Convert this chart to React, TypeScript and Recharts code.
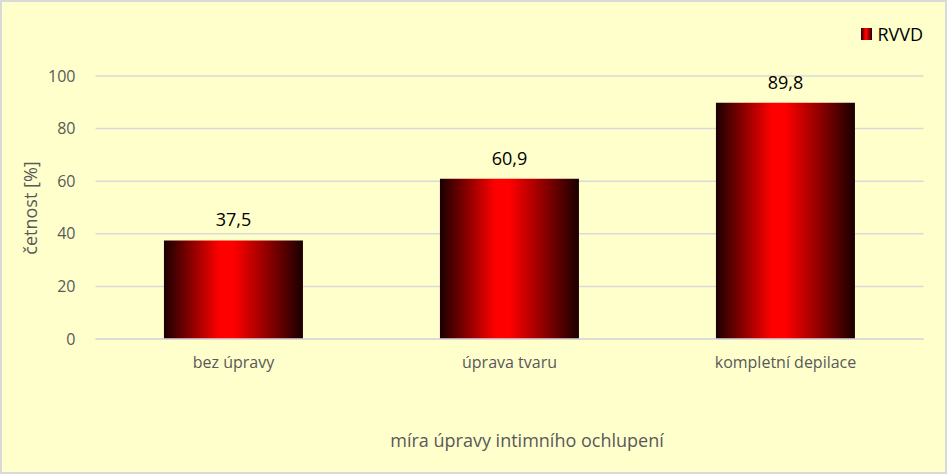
import React from "react";
import { BarChart, Bar, XAxis, YAxis, CartesianGrid, LabelList } from "recharts";

const categories = ["bez úpravy", "úprava tvaru", "kompletní depilace"];
const rvvdValues = [37.5, 60.9, 89.8];
const yTicks = [0, 20, 40, 60, 80, 100];
const seriesName = "RVVD";
const xTitle = "míra úpravy intimního ochlupení";
const yTitle = "četnost [%]";

const data = categories.map((c, i) => ({ name: c, value: rvvdValues[i] }));

const FONT = "'Open Sans', 'Noto Sans', sans-serif";

export default function App() {
  return (
    <div
      style={{
        position: "fixed",
        left: 0,
        top: 0,
        width: 947,
        height: 474,
        background: "#FFFFCC",
        border: "2px solid #D9D9D9",
        boxSizing: "border-box",
        fontFamily: FONT,
      }}
    >
      <div style={{ position: "absolute", left: -2, top: -2 }}>
        <BarChart
          width={947}
          height={474}
          data={data}
          margin={{ top: 76, right: 23.5, bottom: 105, left: 0 }}
          barCategoryGap="24.8%"
        >
          <defs>
            <linearGradient id="barGrad" x1="0" y1="0" x2="1" y2="0">
              <stop offset="0%" stopColor="#1a0000" />
              <stop offset="40%" stopColor="#ff0000" />
              <stop offset="50%" stopColor="#ff0000" />
              <stop offset="100%" stopColor="#1a0000" />
            </linearGradient>
          </defs>
          <CartesianGrid vertical={false} stroke="#D9D9D9" strokeWidth={1.5} />
          <XAxis
            dataKey="name"
            axisLine={{ stroke: "#D9D9D9", strokeWidth: 1.5 }}
            tickLine={false}
            height={30}
            tick={{ fill: "#595959", fontSize: 16, fontFamily: FONT }}
            tickMargin={12}
          />
          <YAxis
            domain={[0, 100]}
            ticks={yTicks}
            axisLine={false}
            tickLine={false}
            width={95.5}
            tick={{ fill: "#595959", fontSize: 16, fontFamily: FONT }}
            tickMargin={14}
          />
          <Bar dataKey="value" fill="url(#barGrad)" isAnimationActive={false}>
            <LabelList
              dataKey="value"
              position="top"
              offset={14}
              formatter={(v: any) => String(v).replace(".", ",")}
              style={{ fill: "#000000", fontSize: 18, fontFamily: FONT }}
            />
          </Bar>
        </BarChart>
      </div>
      <div
        style={{
          position: "absolute",
          left: 858.5,
          top: 21.5,
          display: "flex",
          alignItems: "center",
          fontSize: 18,
          color: "#000",
          lineHeight: "20px",
        }}
      >
        <span
          style={{
            display: "inline-block",
            width: 11,
            height: 12,
            background: "linear-gradient(to right, #1a0000, #ff0000 40%, #ff0000 50%, #1a0000)",
            marginRight: 6,
          }}
        />
        <span>{seriesName}</span>
      </div>
      <div
        style={{
          position: "absolute",
          left: 525 - 200,
          top: 426,
          width: 400,
          textAlign: "center",
          fontSize: 18,
          color: "#595959",
          lineHeight: "24px",
        }}
      >
        {xTitle}
      </div>
      <div
        style={{
          position: "absolute",
          left: 28 - 100,
          top: 206 - 12,
          width: 200,
          textAlign: "center",
          fontSize: 18,
          color: "#595959",
          lineHeight: "24px",
          transform: "rotate(-90deg)",
        }}
      >
        {yTitle}
      </div>
    </div>
  );
}
